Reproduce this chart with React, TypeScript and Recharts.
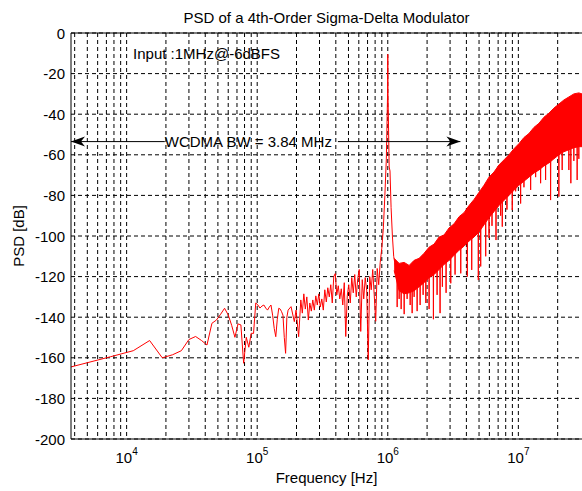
import React from 'react';
import {
    Area,
    CartesianGrid,
    ComposedChart,
    Line,
    ReferenceDot,
    ReferenceLine,
    XAxis,
    YAxis,
} from 'recharts';

// low-frequency part of the spectrum (one point per 3.75 kHz bin)
const lowFreq = [
    3750, 7500, 11250, 15000, 18750, 22500, 26250, 30000, 33750, 37500,
    41250, 45000, 48750, 52500, 56250, 60000, 63750, 67500, 71250, 75000,
    78750, 82500, 86250, 90000, 93750, 97500, 101250, 105000, 108750, 112500,
    116250, 120000, 123750, 127500, 131250, 135000, 138750, 142500, 146250, 150000,
    153750, 157500, 161250, 165000, 168750, 172500,
];
const lowPsd = [
    -164.5, -159.5, -156.5, -151.5, -160, -158.5, -156.5, -151, -149.5, -151.5,
    -153.7, -143, -141.4, -138.5, -135.6, -138.9, -144, -149.9, -143.3, -143.8,
    -162.7, -149.9, -154.8, -147.9, -148, -133, -134, -135.5, -134.5, -134,
    -135.5, -136.5, -135, -134, -139, -145.5, -149.6, -141, -135.6, -136,
    -137.3, -139, -150, -157.8, -140, -136.5,
];

// in-band noise below the tone
const midFreq = [
    181600, 192500, 198400, 207700, 215800, 221600, 227500, 233600, 239900, 246300,
    252900, 259700, 266600, 273800, 281100, 288600, 296300, 304300, 312400, 320800,
    329400, 338200, 347200, 356500, 366000, 375800, 385900, 396200, 406800, 417700,
    428900, 440400, 452200, 464300, 476700, 489400, 502500, 516000, 529800, 544000,
    558500, 573500, 588800, 604600, 620800, 637400, 654400, 671900, 689900, 708400,
    727300, 746800, 766800, 787300, 808400, 830000, 852200, 875000,
];
const midPsd = [
    -134.8, -142.2, -136.5, -149.6, -131.5, -138, -128.5, -136, -130, -141.4,
    -133, -137, -131.5, -136.5, -129.5, -134, -128.5, -135, -131, -136.5,
    -126.5, -132.5, -125.5, -130, -124, -133, -120, -118.5, -129, -124.5,
    -131, -126, -134, -123, -149.5, -129.5, -124, -133, -120.5, -128,
    -119, -130, -121, -116.5, -147, -121.5, -131, -120.5, -127, -161,
    -120, -126.5, -116.5, -129, -142, -116, -124, -113,
];

// the 1 MHz input tone
const peakFreq = [900000, 925000, 950000, 975000, 996250, 1000000, 1003750, 1025000, 1040000, 1060000, 1085000, 1110000];
const peakPsd = [-106, -96, -80, -62, -30, -10.5, -30, -66, -68, -86, -100, -110];

// shaped noise above the tone: trace through the band with its deepest dips
const hfFreq = [
    1130000, 1176000, 1180000, 1184000, 1218000, 1222000, 1226000, 1261000, 1266000, 1271000,
    1330000, 1335000, 1340000, 1402000, 1407000, 1412000, 1478000, 1484000, 1490000, 1531000,
    1537000, 1543000, 1585000, 1591000, 1597000, 1672000, 1678000, 1684000, 1762000, 1769000,
    1776000, 1858000, 1865000, 1872000, 1948000, 1956000, 1964000, 2064000, 2072000, 2080000,
    2227000, 2236000, 2245000, 2377000, 2386000, 2395000, 2505000, 2515000, 2525000, 2609000,
    2619000, 2629000, 2785000, 2796000, 2807000, 3025000, 3037000, 3049000, 3263000, 3276000,
    3289000, 3608000, 3622000, 3636000, 4051000, 4067000, 4083000, 4378000, 4395000, 4412000,
    4916000, 4936000, 4956000, 5129000, 5149000, 5169000, 5600000, 5623000, 5646000, 5938000,
    5962000, 5986000, 6259000, 6284000, 6309000, 6716000, 6743000, 6770000, 7293000, 7322000,
    7351000, 7502000, 7532000, 7562000, 8147000, 8180000, 8213000, 8946000, 8982000, 9018000,
    9499000, 9537000, 9575000, 10370000, 10410000, 10450000, 10990000, 11035000, 11080000, 12370000,
    12420000, 12470000, 13510000, 13564000, 13618000, 14750000, 14810000, 14870000, 16105000, 16170000,
    16235000, 17590000, 17660000, 17730000, 20350000, 20430000, 20510000, 21570000, 21660000, 21750000,
    24270000, 24370000, 24470000, 25140000, 25240000, 25340000, 26500000, 26610000, 26720000, 28090000,
    28200000, 28310000, 29000000, 29060000, 29120000, 30720000,
];
const hfPsd = [
    -113, -120, -135, -120, -124, -131, -124, -124, -136, -124,
    -125, -138.5, -125, -125, -131, -125, -125, -134, -125, -124,
    -138, -124, -124, -130, -124, -122, -137, -122, -121, -134,
    -121, -120, -129, -120, -118, -133, -118, -117, -136, -117,
    -115, -141, -115, -113, -129, -113, -112, -138, -112, -110,
    -125, -110, -109, -128, -109, -106, -123.3, -106, -104, -119,
    -104, -101, -118.4, -101, -98, -120, -98, -96, -116.7, -96,
    -93, -121.7, -93, -91, -115, -91, -88, -110, -88, -86,
    -101, -86, -84, -95, -84, -81, -102, -81, -79, -90,
    -79, -78, -95.4, -78, -76, -87, -76, -74, -87.2, -74,
    -72, -78, -72, -70, -84, -70, -68, -76, -68, -66,
    -77.3, -66, -64, -71, -64, -62, -74, -62, -60, -72.4,
    -60, -59, -82.3, -59, -56, -80.6, -56, -55, -67.5, -55,
    -53, -67.5, -53, -53, -74, -53, -52, -63, -52, -51,
    -72.4, -51, -51, -62, -51, -45,
];

// envelope of the dense noise band
const bandFreq = [
    1119000, 1222000, 1334400, 1457200, 1591300, 1737700, 1897600, 2072200, 2262900, 2471100,
    2698500, 2946800, 3218000, 3514100, 3837500, 4190600, 4576200, 4997300, 5457100, 5959300,
    6507700, 7106500, 7760500, 8474600, 9254400, 10106000, 11036000, 12052000, 13161000, 14372000,
    15694000, 17138000, 18715000, 20437000, 22318000, 24372000, 26614000, 29063000, 30720000,
];
const bandTop = [
    -111, -113.5, -113, -114.5, -112, -111, -108.5, -105.5, -104, -100.5,
    -99.5, -96, -94, -90.5, -88.5, -85, -82, -78.5, -75, -71,
    -68.5, -65, -62.5, -60, -57, -54.5, -51.5, -49.5, -46.5, -44.5,
    -41.5, -39.5, -37, -35, -33, -31.5, -30, -29.5, -30,
];
const bandBottom = [
    -117, -127, -128.5, -128, -127, -125, -123, -120.5, -119, -116.5,
    -114, -112, -109.5, -107, -105, -102.5, -100.5, -98, -94.5, -91,
    -88, -85, -82.5, -80, -77.5, -75, -73, -71, -69, -67.5,
    -65.5, -64, -62, -60, -58.5, -57.5, -56.5, -56, -56,
];

const gridFreqs = [
    4000, 5000, 6000, 7000, 8000, 9000,
    10000, 20000, 30000, 40000, 50000, 60000, 70000, 80000, 90000,
    100000, 200000, 300000, 400000, 500000, 600000, 700000, 800000, 900000,
    1000000, 2000000, 3000000, 4000000, 5000000, 6000000, 7000000, 8000000, 9000000,
    10000000, 20000000,
];
const decadeFreqs = [10000, 100000, 1000000, 10000000];
const psdTicks = [-200, -180, -160, -140, -120, -100, -80, -60, -40, -20, 0];

const title = 'PSD of a 4th-Order Sigma-Delta Modulator';
const inputNote = { f: 11200, psd: -10.3, text: 'Input :1MHz@-6dBFS' };
const bwNote = { text: 'WCDMA BW = 3.84 MHz', psd: -53.5, from: 3750, textFrom: 19600, textTo: 415000, to: 3600000 };

const font = '"Liberation Sans", Arial, sans-serif';

const trace = [
    ...lowFreq.map((f, i) => ({ f, psd: lowPsd[i] })),
    ...midFreq.map((f, i) => ({ f, psd: midPsd[i] })),
    ...peakFreq.map((f, i) => ({ f, psd: peakPsd[i] })),
    ...hfFreq.map((f, i) => ({ f, psd: hfPsd[i] })),
];
const band = bandFreq.map((f, i) => ({ f, range: [bandBottom[i], bandTop[i]] }));

const FreqTick = ({ x, y, payload }: any) => {
    if (!decadeFreqs.includes(payload.value)) return <g />;
    const exp = Math.round(Math.log10(payload.value));
    return (
        <text x={x} y={y + 24} textAnchor="middle" fontSize={15} fill="#000" fontFamily={font}>
            10<tspan dy={-8} fontSize={10}>{exp}</tspan>
        </text>
    );
};

const PsdTick = ({ x, y, payload }: any) => (
    <text x={x} y={y} textAnchor="end" dominantBaseline="central" fontSize={15} fill="#000" fontFamily={font}>
        {payload.value}
    </text>
);

const XLabel = ({ viewBox }: any) => (
    <text x={viewBox.x + viewBox.width / 2} y={viewBox.y + 44} textAnchor="middle" fontSize={15} fill="#000" fontFamily={font}>
        Frequency [Hz]
    </text>
);

const YLabel = ({ viewBox }: any) => {
    const cx = viewBox.x + 18;
    const cy = viewBox.y + viewBox.height / 2;
    return (
        <text x={cx} y={cy} transform={`rotate(-90, ${cx}, ${cy})`} textAnchor="middle" dominantBaseline="central" fontSize={15} fill="#000" fontFamily={font}>
            PSD [dB]
        </text>
    );
};

const TitleLabel = ({ viewBox }: any) => (
    <text x={viewBox.x + viewBox.width / 2} y={viewBox.y - 10.5} textAnchor="middle" fontSize={15} fill="#000" fontFamily={font}>
        {title}
    </text>
);

const noteText = (text: string) => (p: any) => (
    <text x={p.cx} y={p.cy} dominantBaseline="central" fontSize={15} fill="#000" fontFamily={font}>
        {text}
    </text>
);

const arrowHead = (dir: number) => (p: any) => (
    <path
        d={`M${p.cx},${p.cy} L${p.cx + dir * 14},${p.cy - 5} L${p.cx + dir * 10},${p.cy} L${p.cx + dir * 14},${p.cy + 5} Z`}
        fill="#000"
    />
);

export default function App() {
    return (
        <div style={{ position: 'absolute', left: 0, top: 0, width: 582, height: 491, background: '#fff' }}>
            <ComposedChart width={582} height={491} margin={{ top: 33, right: 0, left: 0, bottom: 0 }}>
                <CartesianGrid stroke="#000" strokeDasharray="4 3" horizontalValues={psdTicks} verticalValues={gridFreqs} />
                <XAxis
                    dataKey="f"
                    type="number"
                    scale="log"
                    domain={[3750, 30720000]}
                    allowDataOverflow
                    ticks={gridFreqs}
                    interval={0}
                    height={52}
                    tickSize={0}
                    tickMargin={0}
                    tickLine={false}
                    axisLine={{ stroke: '#000' }}
                    tick={<FreqTick />}
                    label={<XLabel />}
                />
                <YAxis
                    type="number"
                    domain={[-200, 0]}
                    allowDataOverflow
                    ticks={psdTicks}
                    interval={0}
                    width={71}
                    tickSize={0}
                    tickMargin={6}
                    tickLine={false}
                    axisLine={{ stroke: '#000' }}
                    tick={<PsdTick />}
                    label={<YLabel />}
                />
                <Area
                    data={band}
                    dataKey="range"
                    type="linear"
                    stroke="#ff0000"
                    strokeWidth={1}
                    fill="#ff0000"
                    fillOpacity={1}
                    isAnimationActive={false}
                />
                <Line
                    data={trace}
                    dataKey="psd"
                    type="linear"
                    stroke="#ff0000"
                    strokeWidth={1}
                    dot={false}
                    isAnimationActive={false}
                />
                <ReferenceLine y={0} stroke="#000" strokeWidth={1} label={<TitleLabel />} />
                <ReferenceLine
                    segment={[{ x: bwNote.from, y: bwNote.psd }, { x: bwNote.textFrom, y: bwNote.psd }]}
                    stroke="#000"
                    ifOverflow="visible"
                />
                <ReferenceLine
                    segment={[{ x: bwNote.textTo, y: bwNote.psd }, { x: bwNote.to, y: bwNote.psd }]}
                    stroke="#000"
                    ifOverflow="visible"
                />
                <ReferenceDot x={bwNote.from} y={bwNote.psd} ifOverflow="visible" shape={arrowHead(1)} />
                <ReferenceDot x={bwNote.to} y={bwNote.psd} ifOverflow="visible" shape={arrowHead(-1)} />
                <ReferenceDot x={bwNote.textFrom} y={bwNote.psd} ifOverflow="visible" shape={noteText(bwNote.text)} />
                <ReferenceDot x={inputNote.f} y={inputNote.psd} ifOverflow="visible" shape={noteText(inputNote.text)} />
            </ComposedChart>
        </div>
    );
}
